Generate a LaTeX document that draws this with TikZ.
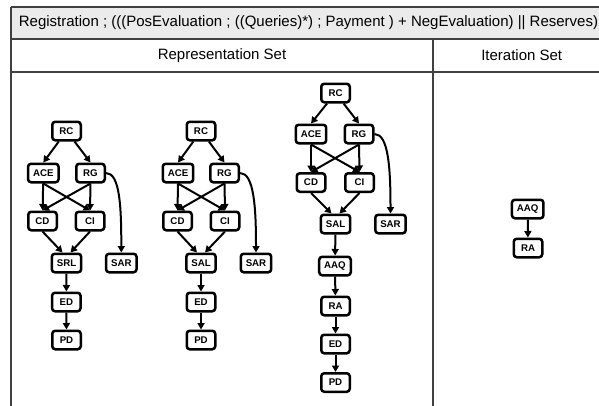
\documentclass[tikz,border=0pt]{standalone}
\usepackage{fontspec}
\setmainfont{Liberation Sans}
\usetikzlibrary{arrows.meta}

\tikzset{
  act/.style={draw, line width=2.5pt, rounded corners=3pt, minimum width=28.5pt,
    minimum height=18.5pt, inner xsep=5pt, inner ysep=0pt,
    font=\fontsize{9.7}{10}\selectfont\bfseries},
  flow/.style={line width=2pt, -{Triangle[length=6.5pt,width=7pt]}},
  tabline/.style={line width=1.5pt, black!75}
}

\begin{document}
\begin{tikzpicture}[x=1pt,y=-1pt]
\useasboundingbox (0,0) rectangle (599,405);
\clip (0,0) rectangle (599,405);

% table
\fill[black!8] (11,7) rectangle (612,39);
\draw[tabline] (11,7) -- (612,7);
\draw[tabline] (11,39) -- (612,39);
\draw[tabline] (11,72) -- (612,72);
\draw[tabline] (11,7) -- (11,410);
\draw[tabline] (433,39) -- (433,410);
\draw[tabline] (611,7) -- (611,410);

\node (head) at (308.5,23) {\fontsize{15}{18}\selectfont Registration ; (((PosEvaluation ; ((Queries)*) ; Payment ) + NegEvaluation) || Reserves)};
\node (rep) at (222,55.5) {\fontsize{15}{18}\selectfont Representation Set};
\node (iter) at (521.7,55.5) {\fontsize{15}{18}\selectfont Iteration Set};

% first graph
\node[act] (RC1) at (66.5,131) {RC};
\node[act] (ACE1) at (43.3,173) {ACE};
\node[act] (RG1) at (90.5,173) {RG};
\node[act] (CD1) at (42.5,221) {CD};
\node[act] (CI1) at (90,221) {CI};
\node[act] (SRL1) at (66.5,263) {SRL};
\node[act] (SAR1) at (121.3,263) {SAR};
\node[act] (ED1) at (66.3,302) {ED};
\node[act] (PD1) at (66.5,340) {PD};

\draw[flow] (RC1) -- (ACE1.north);
\draw[flow] (RC1) -- (RG1.north);
\draw[flow] (ACE1) -- (CD1);
\draw[flow] (ACE1.south) -- (CI1.north);
\draw[flow] (RG1.south) -- (CD1.north);
\draw[flow] (RG1) -- (CI1);
\draw[flow] (CD1.south) -- ([xshift=-4pt]SRL1.north);
\draw[flow] (CI1.south) -- ([xshift=4pt]SRL1.north);
\draw[flow] (RG1.east) .. controls +(14,0) and +(0,-45) .. (SAR1.north);
\draw[flow] (SRL1) -- (ED1);
\draw[flow] (ED1) -- (PD1);

% second graph
\node[act] (RC2) at (201,131) {RC};
\node[act] (ACE2) at (178,173) {ACE};
\node[act] (RG2) at (224.5,173) {RG};
\node[act] (CD2) at (177.5,221) {CD};
\node[act] (CI2) at (225,221) {CI};
\node[act] (SAL2) at (201,263) {SAL};
\node[act] (SAR2) at (256,263) {SAR};
\node[act] (ED2) at (201,302) {ED};
\node[act] (PD2) at (201,340) {PD};

\draw[flow] (RC2) -- (ACE2.north);
\draw[flow] (RC2) -- (RG2.north);
\draw[flow] (ACE2) -- (CD2);
\draw[flow] (ACE2.south) -- (CI2.north);
\draw[flow] (RG2.south) -- (CD2.north);
\draw[flow] (RG2) -- (CI2);
\draw[flow] (CD2.south) -- ([xshift=-4pt]SAL2.north);
\draw[flow] (CI2.south) -- ([xshift=4pt]SAL2.north);
\draw[flow] (RG2.east) .. controls +(14,0) and +(0,-45) .. (SAR2.north);
\draw[flow] (SAL2) -- (ED2);
\draw[flow] (ED2) -- (PD2);

% third graph
\node[act] (RC3) at (335.5,93) {RC};
\node[act] (ACE3) at (311,134) {ACE};
\node[act] (RG3) at (359,134) {RG};
\node[act] (CD3) at (311,182.5) {CD};
\node[act] (CI3) at (359.5,182.5) {CI};
\node[act] (SAL3) at (335.5,224) {SAL};
\node[act] (SAR3) at (390.5,224) {SAR};
\node[act] (AAQ3) at (335,266) {AAQ};
\node[act] (RA3) at (335.5,306) {RA};
\node[act] (ED3) at (335.5,344) {ED};
\node[act] (PD3) at (335.5,382.5) {PD};

\draw[flow] (RC3) -- (ACE3.north);
\draw[flow] (RC3) -- (RG3.north);
\draw[flow] (ACE3) -- (CD3);
\draw[flow] (ACE3.south) -- (CI3.north);
\draw[flow] (RG3.south) -- (CD3.north);
\draw[flow] (RG3) -- (CI3);
\draw[flow] (CD3.south) -- ([xshift=-4pt]SAL3.north);
\draw[flow] (CI3.south) -- ([xshift=4pt]SAL3.north);
\draw[flow] (RG3.east) .. controls +(14,0) and +(0,-45) .. (SAR3.north);
\draw[flow] (SAL3) -- (AAQ3);
\draw[flow] (AAQ3) -- (RA3);
\draw[flow] (RA3) -- (ED3);
\draw[flow] (ED3) -- (PD3);

% iteration set
\node[act] (AAQ4) at (527.7,209) {AAQ};
\node[act] (RA4) at (528,248) {RA};
\draw[flow] (AAQ4) -- (RA4);
\end{tikzpicture}
\end{document}
